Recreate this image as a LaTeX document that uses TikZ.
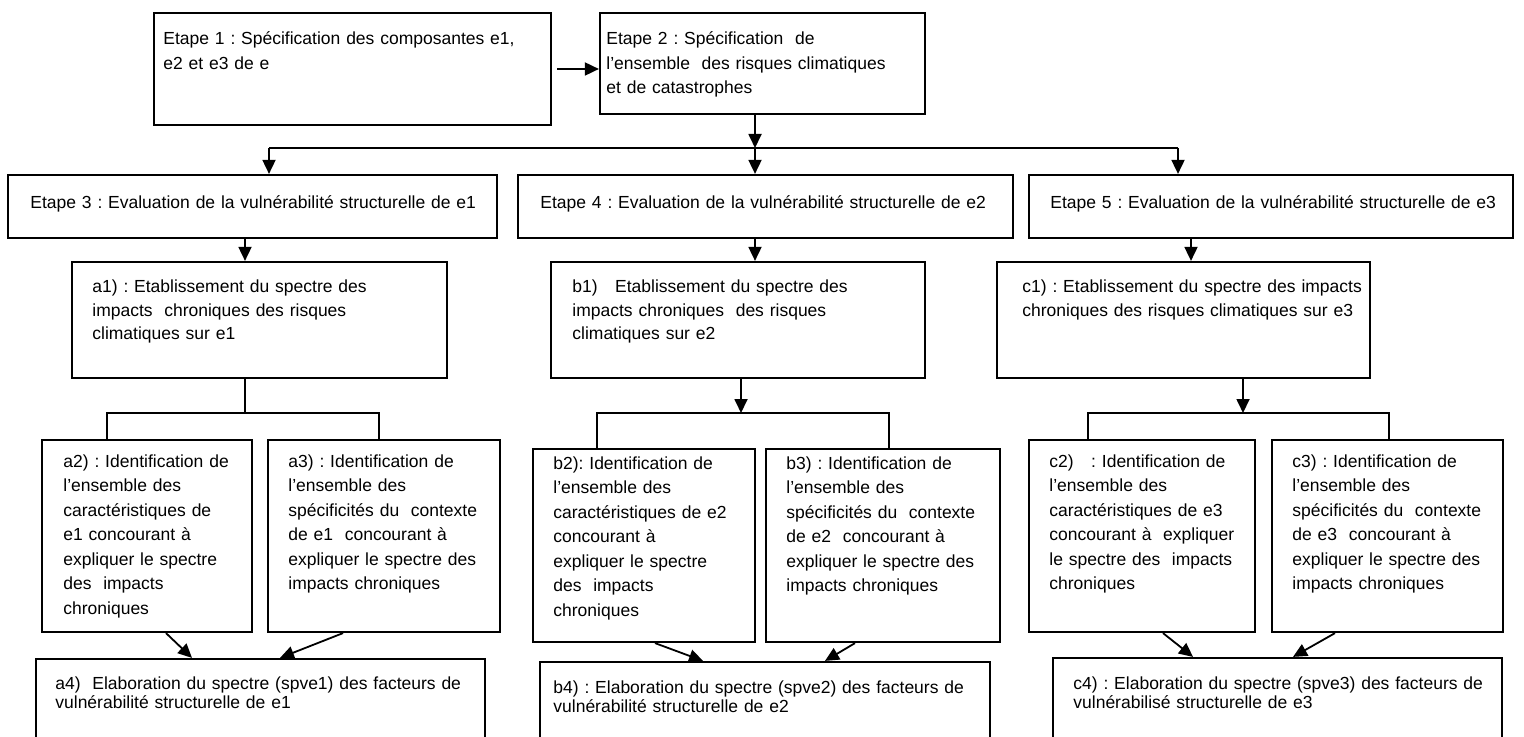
\documentclass[tikz,border=0pt]{standalone}
\usepackage{fontspec}
\setmainfont{Liberation Sans}
\usetikzlibrary{arrows.meta,fit}
\frenchspacing
\tikzset{
  box/.style={draw, line width=1.1pt, inner sep=0pt},
  txt/.style={anchor=base west, inner sep=0pt, align=left, font=\frenchspacing\fontsize{8.75pt}{12.25pt}\selectfont},
  txtb/.style={anchor=base west, inner sep=0pt, align=left, font=\frenchspacing\fontsize{8.75pt}{11.75pt}\selectfont},
  txtc/.style={anchor=base west, inner sep=0pt, align=left, font=\frenchspacing\fontsize{8.75pt}{9.6pt}\selectfont},
  conn/.style={line width=0.9pt},
  arr/.style={line width=0.9pt, -{Triangle[length=7pt, width=6.5pt]}},
}
\begin{document}
\begin{tikzpicture}[x=0.5pt, y=-0.5pt]
\useasboundingbox (0,0) rectangle (1524,737);
\clip (0,0) rectangle (1524,737);

% ---------- boxes ----------
\node[box, fit={(154,13) (551,125)}] (E1) {};
\node[box, fit={(600,13) (925,114)}] (E2) {};
\node[box, fit={(8,175) (497,238)}] (E3) {};
\node[box, fit={(518,175) (1013,238)}] (E4) {};
\node[box, fit={(1029,175) (1513,238)}] (E5) {};
\node[box, fit={(72,262) (447,378)}] (a1) {};
\node[box, fit={(551,262) (925,378)}] (b1) {};
\node[box, fit={(997,262) (1370,378)}] (c1) {};
\node[box, fit={(42,440) (252,632)}] (a2) {};
\node[box, fit={(268,440) (500,632)}] (a3) {};
\node[box, fit={(533,449) (755,642)}] (b2) {};
\node[box, fit={(766,449) (1000,642)}] (b3) {};
\node[box, fit={(1029,440) (1255,632)}] (c2) {};
\node[box, fit={(1272,440) (1503,632)}] (c3) {};
\node[box, fit={(36,659) (485,750)}] (a4) {};
\node[box, fit={(540,662) (990,750)}] (b4) {};
\node[box, fit={(1053,658) (1502,750)}] (c4) {};

% ---------- texts ----------
\node[txt, text width=192pt] (E1t) at (163,45) {Etape 1 : Spécification des composantes e1,\\e2 et e3 de e};
\node[txt, text width=157pt] (E2t) at (606,45) {Etape 2 : Spécification\ \ de\\l’ensemble\ \ des risques climatiques\\et de catastrophes};
\node[txt, text width=230pt] (E3t) at (30,209) {Etape 3 : Evaluation de la vulnérabilité structurelle de e1};
\node[txt, text width=230pt] (E4t) at (540,209) {Etape 4 : Evaluation de la vulnérabilité structurelle de e2};
\node[txt, text width=230pt] (E5t) at (1050,209) {Etape 5 : Evaluation de la vulnérabilité structurelle de e3};

\node[txtb, text width=175pt] (a1t) at (92,293) {a1) : Etablissement du spectre des\\impacts\ \ chroniques des risques\\climatiques sur e1};
\node[txtb, text width=175pt] (b1t) at (572,293) {b1)\ \ \ Etablissement du spectre des\\impacts chroniques\ \ des risques\\climatiques sur e2};
\node[txtb, text width=172pt] (c1t) at (1022,293) {c1) : Etablissement du spectre des impacts\\chroniques des risques climatiques sur e3};

\node[txt, text width=93pt] (a2t) at (63,467) {a2) : Identification de\\l’ensemble des\\caractéristiques de\\e1 concourant à\\expliquer le spectre\\des\ \ impacts\\chroniques};
\node[txt, text width=105pt] (a3t) at (288,467) {a3) : Identification de\\l’ensemble des\\spécificités du\ \ contexte\\de e1\ \ concourant à\\expliquer le spectre des\\impacts chroniques};
\node[txt, text width=100pt] (b2t) at (553,469) {b2): Identification de\\l’ensemble des\\caractéristiques de e2\\concourant à\\expliquer le spectre\\des\ \ impacts\\chroniques};
\node[txt, text width=106pt] (b3t) at (786,469) {b3) : Identification de\\l’ensemble des\\spécificités du\ \ contexte\\de e2\ \ concourant à\\expliquer le spectre des\\impacts chroniques};
\node[txt, text width=102pt] (c2t) at (1049,467) {c2)\ \ \ : Identification de\\l’ensemble des\\caractéristiques de e3\\concourant à\ \ expliquer\\le spectre des\ \ impacts\\chroniques};
\node[txt, text width=104pt] (c3t) at (1292,467) {c3) : Identification de\\l’ensemble des\\spécificités du\ \ contexte\\de e3\ \ concourant à\\expliquer le spectre des\\impacts chroniques};

\node[txtc, text width=214pt] (a4t) at (55,689) {a4)\ \ Elaboration du spectre (spve1) des facteurs de\\vulnérabilité structurelle de e1};
\node[txtc, text width=217pt] (b4t) at (553,693) {b4) : Elaboration du spectre (spve2) des facteurs de\\vulnérabilité structurelle de e2};
\node[txtc, text width=213pt] (c4t) at (1073,689) {c4) : Elaboration du spectre (spve3) des facteurs de\\vulnérabilisé structurelle de e3};

% ---------- helper coordinates ----------
\coordinate (j1) at (269,148);
\coordinate (j2) at (755,148);
\coordinate (j3) at (1178,148);
\coordinate (xa) at (245,250);
\coordinate (xb) at (755,250);
\coordinate (xc) at (1191,250);
\coordinate (ha) at (245,413);
\coordinate (ha1) at (107,413);
\coordinate (ha2) at (379,413);
\coordinate (hb) at (741,413);
\coordinate (hb1) at (597,413);
\coordinate (hb2) at (889,413);
\coordinate (hc) at (1243,413);
\coordinate (hc1) at (1088,413);
\coordinate (hc2) at (1389,413);
\coordinate (sa2) at (166,645);
\coordinate (ta2) at (192,645);
\coordinate (sa3) at (343,645);
\coordinate (ta3) at (280,645);
\coordinate (sb2) at (655,650);
\coordinate (tb2) at (703,650);
\coordinate (sb3) at (855,650);
\coordinate (tb3) at (825,650);
\coordinate (sc2) at (1163,645);
\coordinate (tc2) at (1193,645);
\coordinate (sc3) at (1335,645);
\coordinate (tc3) at (1293,645);

% ---------- connectors ----------
\draw[arr, shorten <=2.5pt] (E1.east) -- (E2.west |- E1.east);
\draw[arr] (E2.south -| j2) -- (j2);
\draw[conn] (j1) -- (j3);
\draw[arr] (j1) -- (E3.north -| j1);
\draw[arr] (j2) -- (E4.north -| j2);
\draw[arr] (j3) -- (E5.north -| j3);

\draw[arr] (E3.south -| xa) -- (a1.north -| xa);
\draw[arr] (E4.south -| xb) -- (b1.north -| xb);
\draw[arr] (E5.south -| xc) -- (c1.north -| xc);

\draw[conn] (a1.south -| ha) -- (ha);
\draw[conn] (a2.north -| ha1) -- (ha1) -- (ha2) -- (a3.north -| ha2);
\draw[arr] (b1.south -| hb) -- (hb);
\draw[conn] (b2.north -| hb1) -- (hb1) -- (hb2) -- (b3.north -| hb2);
\draw[arr] (c1.south -| hc) -- (hc);
\draw[conn] (c2.north -| hc1) -- (hc1) -- (hc2) -- (c3.north -| hc2);

\draw[arr] (a2.south -| sa2) -- (a4.north -| ta2);
\draw[arr] (a3.south -| sa3) -- (a4.north -| ta3);
\draw[arr] (b2.south -| sb2) -- (b4.north -| tb2);
\draw[arr] (b3.south -| sb3) -- (b4.north -| tb3);
\draw[arr] (c2.south -| sc2) -- (c4.north -| tc2);
\draw[arr] (c3.south -| sc3) -- (c4.north -| tc3);
\end{tikzpicture}
\end{document}
